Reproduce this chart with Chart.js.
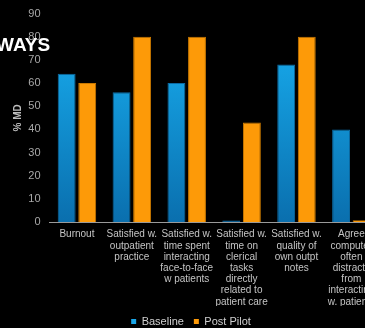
<!DOCTYPE html>
<html>
<head>
<meta charset="utf-8">
<script src="https://cdn.jsdelivr.net/npm/chart.js@4.4.1/dist/chart.umd.min.js"></script>
<style>
  html, body { margin: 0; padding: 0; background: #000; overflow: hidden; width: 365px; height: 328px; }
  #wrap { position: absolute; left: 0; top: -2px; width: 382px; height: 339px; }
  #titulo { position: absolute; left: -4px; top: 34px; color: #fff; font: bold 19px 'Liberation Sans', Arial, sans-serif; z-index: 2; }
</style>
</head>
<body>
<div id="wrap"><canvas id="grafico"></canvas></div>
<div id="titulo">WAYS</div>
<script>
// categorias (rotulos em varias linhas)
const categorias = [
    ['Burnout'],
    ['Satisfied w.', 'outpatient', 'practice'],
    ['Satisfied w.', 'time spent', 'interacting', 'face-to-face', 'w patients'],
    ['Satisfied w.', 'time on', 'clerical', 'tasks', 'directly', 'related to', 'patient care'],
    ['Satisfied w.', 'quality of', 'own outpt', 'notes'],
    ['Agree', 'computer', 'often', 'distracts', 'from', 'interacting', 'w. patients']
];
const baseline = [64, 56, 60, 0.6, 68, 40];
const postPilot = [60, 80, 80, 43, 80, 0.8];
const ticksY = [0, 10, 20, 30, 40, 50, 60, 70, 80, 90];

const FONTE = "'Liberation Sans', Arial, sans-serif";

// gradiente azul das barras Baseline
function gradienteAzul(ctx) {
    const area = ctx.chart.chartArea;
    if (!area) return '#1aa6e8';
    const g = ctx.chart.ctx.createLinearGradient(0, area.top, 0, area.bottom);
    g.addColorStop(0, '#19b2f4');
    g.addColorStop(1, '#0a6fae');
    return g;
}

new Chart(document.getElementById('grafico'), {
    type: 'bar',
    data: {
        labels: categorias,
        datasets: [
            {
                label: 'Baseline',
                data: baseline,
                backgroundColor: gradienteAzul,
                borderColor: '#0b6aa3',
                borderWidth: 1,
                categoryPercentage: 0.75,
                barPercentage: 0.87
            },
            {
                label: 'Post Pilot',
                data: postPilot,
                backgroundColor: '#fd9a08',
                borderColor: '#c97800',
                borderWidth: 1,
                categoryPercentage: 0.75,
                barPercentage: 0.87
            }
        ]
    },
    options: {
        responsive: true,
        maintainAspectRatio: false,
        animation: false,
        layout: { padding: { top: 5, right: 0, left: 0, bottom: 0 } },
        plugins: {
            tooltip: { enabled: false },
            legend: {
                position: 'bottom',
                labels: {
                    color: '#d0d0d0',
                    font: { family: FONTE, size: 11 },
                    boxWidth: 5,
                    boxHeight: 5,
                    padding: 10,
                    generateLabels: (chart) => chart.data.datasets.map((ds, i) => ({
                        text: ds.label,
                        fillStyle: i === 0 ? '#1aa6e8' : '#fd9a08',
                        strokeStyle: 'transparent',
                        lineWidth: 0,
                        fontColor: '#d0d0d0',
                        datasetIndex: i
                    }))
                }
            }
        },
        scales: {
            x: {
                grid: { display: false, drawTicks: false },
                border: { display: true, color: '#9a9a9a', width: 1 },
                ticks: {
                    color: '#c4c4c4',
                    font: { family: FONTE, size: 10, lineHeight: 1.12 },
                    maxRotation: 0,
                    autoSkip: false,
                    padding: 7
                },
                afterFit: (scale) => { scale.height = 84; }
            },
            y: {
                min: 0,
                max: 90,
                grid: { display: false, drawTicks: false },
                border: { display: false },
                afterBuildTicks: (scale) => { scale.ticks = ticksY.map(v => ({ value: v })); },
                ticks: {
                    color: '#a8a8a8',
                    font: { family: FONTE, size: 11 },
                    padding: 9
                },
                title: {
                    display: true,
                    text: '% MD',
                    color: '#bdbdbd',
                    font: { family: FONTE, size: 10, weight: 'bold' },
                    padding: { top: 12, bottom: 0 }
                },
                afterFit: (scale) => { scale.width = 49.5; }
            }
        }
    }
});
</script>
</body>
</html>
